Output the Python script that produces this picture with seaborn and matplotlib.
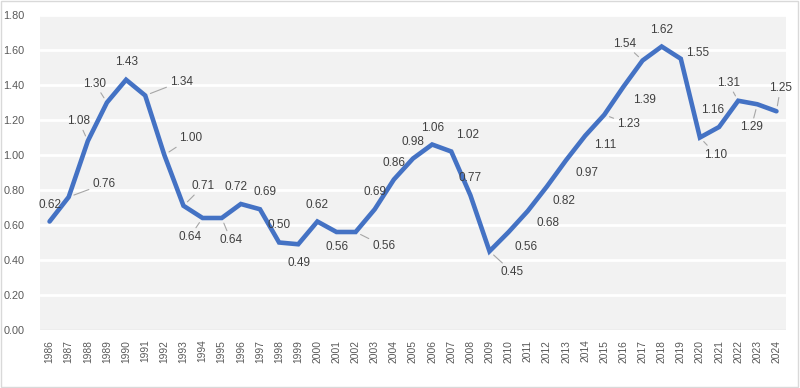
import matplotlib
matplotlib.use("Agg")
import matplotlib.pyplot as plt
import seaborn as sns
import pandas as pd
from matplotlib.patches import Rectangle

# data
years = list(range(1986, 2025))
values = [0.62, 0.76, 1.08, 1.30, 1.43, 1.34, 1.00, 0.71, 0.64, 0.64,
          0.72, 0.69, 0.50, 0.49, 0.62, 0.56, 0.56, 0.69, 0.86, 0.98,
          1.06, 1.02, 0.77, 0.45, 0.56, 0.68, 0.82, 0.97, 1.11, 1.23,
          1.39, 1.54, 1.62, 1.55, 1.10, 1.16, 1.31, 1.29, 1.25]
y_ticks = [0.0, 0.2, 0.4, 0.6, 0.8, 1.0, 1.2, 1.4, 1.6, 1.8]

# label placement (pixel offsets from the point, y down) and leader-line flags
label_offsets = [(0, -17), (35, -13), (-9, -20), (-12, -19), (0, -18), (36, -14),
                 (26, -17), (20, -20), (-13, 19), (9, 22), (-5, -17), (5, -17),
                 (0, -17), (1, 19), (0, -17), (1, 15), (28, 14), (0, -17),
                 (0, -17), (0, -17), (0, -17), (16, -17), (0, -17), (23, 21),
                 (17, 15), (20, 12), (17, 14), (21, 13), (20, 9), (24, 9),
                 (21, 13), (-18, -17), (0, -17), (17, -6), (16, 17), (-6, -17),
                 (-10, -18), (-6, 23), (4, -23)]
leaders = [0, 1, 1, 1, 0, 1, 1, 1, 1, 1, 0, 0, 0, 0, 0, 0, 1, 0, 0, 0,
           0, 0, 0, 1, 0, 0, 0, 0, 0, 1, 0, 1, 0, 0, 1, 0, 1, 1, 1]

df = pd.DataFrame({"year": years, "value": values})

sns.set_theme(style="white")
plt.rcParams["font.family"] = ["Liberation Sans", "DejaVu Sans"]

fig = plt.figure(figsize=(8, 3.88), dpi=100)
ax = fig.add_axes([0.05, 0.1495, 0.9325, 0.8118])
ax.set_facecolor("#f2f2f2")

for t in y_ticks[1:]:
    ax.axhline(t, color="white", linewidth=2, zorder=1)
ax.axhline(0, color="#d9d9d9", linewidth=1, zorder=1)

sns.lineplot(data=df, x="year", y="value", ax=ax, color="#4472C4",
             linewidth=3.3, zorder=3, solid_joinstyle="miter")

for (yr, v, off, lead) in zip(years, values, label_offsets, leaders):
    arrow = None
    if lead:
        arrow = dict(arrowstyle="-", color="#a6a6a6", lw=0.8,
                     shrinkA=0, shrinkB=4)
    ax.annotate(f"{v:.2f}", xy=(yr, v), xytext=(off[0], -off[1]),
                textcoords="offset pixels", ha="center", va="center",
                fontsize=8.5, color="#404040", arrowprops=arrow, zorder=4)

ax.set_xlim(1985.5, 2024.5)
ax.set_ylim(0, 1.8)
ax.set_yticks(y_ticks)
ax.set_yticklabels([f"{t:.2f}" for t in y_ticks])
ax.set_xticks(years)
ax.set_xticklabels([str(y) for y in years], rotation=90)
ax.tick_params(axis="y", labelsize=7.8, colors="#595959", length=0, pad=11)
ax.tick_params(axis="x", labelsize=7.4, colors="#595959", length=0, pad=7)
ax.set_xlabel("")
ax.set_ylabel("")
for s in ax.spines.values():
    s.set_visible(False)

# outer chart border
fig.patches.append(Rectangle((0.001, 0.002), 0.997, 0.995, transform=fig.transFigure,
                             fill=False, edgecolor="#d9d9d9", linewidth=1))

fig.savefig("out.png", dpi=100)
